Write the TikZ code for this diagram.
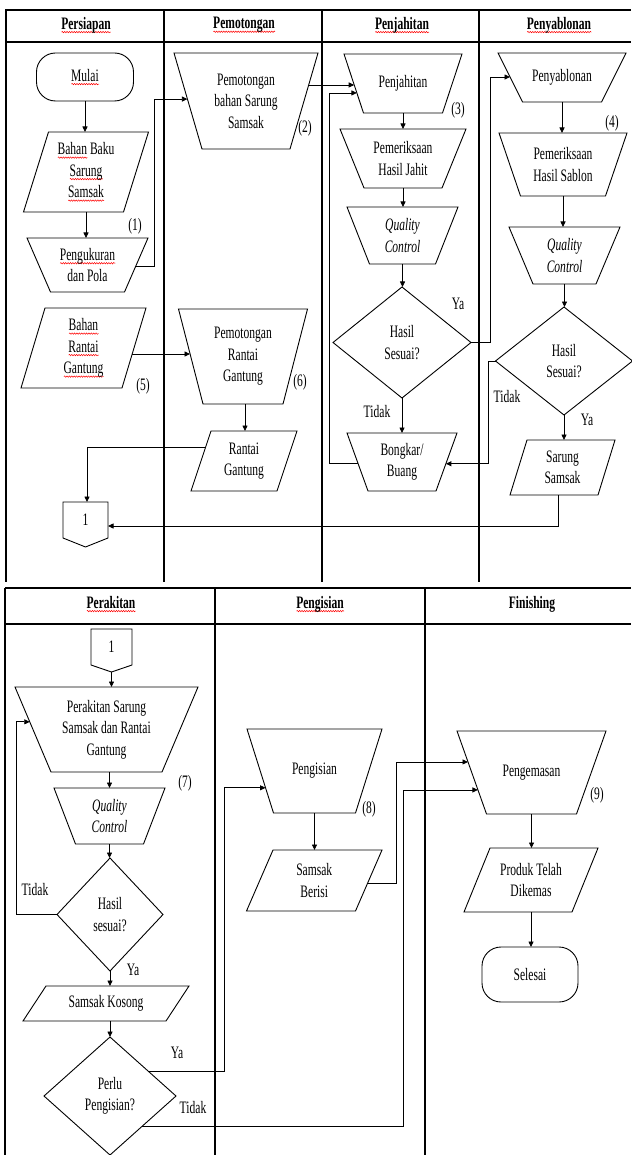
\documentclass[tikz,border=0pt]{standalone}
\usepackage{fontspec}
\setmainfont{Liberation Serif}[FakeStretch=0.66]
\usetikzlibrary{arrows.meta,calc,decorations.pathmorphing}
\newsavebox\sqbox
\newlength\sqw
\newcommand\sq[1]{\sbox\sqbox{#1}\setlength\sqw{\wd\sqbox}\leavevmode\rlap{\tikz[baseline=0pt,sharp corners]\draw[red,sharp corners,solid,line width=0.5pt,decorate,decoration={snake,amplitude=0.7pt,segment length=2.4pt}] (0pt,-3pt) -- (\sqw,-3pt);}\usebox\sqbox}
\tikzset{
 txt/.style={align=center, inner sep=1pt, outer sep=0pt, font=\fontsize{17.5}{21.5}\selectfont},
 shp/.style={line width=0.9pt, line join=miter},
 arr/.style={line width=0.8pt, -{Triangle[length=5.5pt,width=5pt]}},
 tbl/.style={line width=1.3pt},
}
% trapezoid (manual operation): name, cx, cy, top width, bottom width, height, text
\newcommand\trapz[7]{%
 \node[txt, minimum width=#4pt, minimum height=#6pt] (#1) at (#2,#3) {#7};
 \coordinate (#1-tl) at (#1.north west);
 \coordinate (#1-tr) at (#1.north east);
 \coordinate (#1-br) at ($(#1.south east)+({-(#4-#5)/2},0)$);
 \coordinate (#1-bl) at ($(#1.south west)+({(#4-#5)/2},0)$);
 \draw[shp] (#1-tl) -- (#1-tr) -- (#1-br) -- (#1-bl) -- cycle;}
% parallelogram: name, cx, cy, width, height, slant, text
\newcommand\mkpara[7]{%
 \node[txt, minimum width=#4pt, minimum height=#5pt] (#1) at (#2,#3) {#7};
 \coordinate (#1-tl) at ($(#1.north west)+({#6/2},0)$);
 \coordinate (#1-tr) at ($(#1.north east)+({#6/2},0)$);
 \coordinate (#1-br) at ($(#1.south east)+({-#6/2},0)$);
 \coordinate (#1-bl) at ($(#1.south west)+({-#6/2},0)$);
 \draw[shp] (#1-tl) -- (#1-tr) -- (#1-br) -- (#1-bl) -- cycle;}
% diamond: name, cx, cy, width, height, text
\newcommand\dmd[6]{%
 \node[txt, minimum width=#4pt, minimum height=#5pt] (#1) at (#2,#3) {#6};
 \draw[shp] (#1.north) -- (#1.east) -- (#1.south) -- (#1.west) -- cycle;}
% terminator: name, cx, cy, width, height, text
\newcommand\mkterm[6]{%
 \node[txt, minimum width=#4pt, minimum height=#5pt] (#1) at (#2,#3) {#6};
 \draw[shp, rounded corners=19pt] (#1.north west) rectangle (#1.south east);}
% off-page connector: name, cx, cy, width, height, point depth, text
\newcommand\offp[7]{%
 \node[txt, minimum width=#4pt, minimum height=#5pt] (#1) at (#2,#3) {#7};
 \coordinate (#1-p) at ($(#1.south)+(0,#6)$);
 \draw[shp] (#1.north west) -- (#1.north east) -- (#1.south east) -- (#1-p) -- (#1.south west) -- cycle;}
\begin{document}
\begin{tikzpicture}[x=1pt,y=-1pt]
\fill[white] (0,0) rectangle (631,1155);
\useasboundingbox (0,0) rectangle (631,1155);
% ---------- top table ----------
\draw[tbl] (5,10) -- (631,10);
\draw[tbl] (5,42) -- (631,42);
\draw[tbl] (6,10) -- (6,582);
\draw[tbl] (164,10) -- (164,582);
\draw[tbl] (322,10) -- (322,582);
\draw[tbl] (479,10) -- (479,582);
\node[txt] (h1) at (86,25) {\textbf{\sq{Persiapan}}};
\node[txt] (h2) at (244,25) {\textbf{\sq{Pemotongan}}};
\node[txt] (h3) at (402,25) {\textbf{\sq{Penjahitan}}};
\node[txt] (h4) at (559,25) {\textbf{\sq{Penyablonan}}};
% ---------- bottom table ----------
\draw[tbl] (5,588) -- (631,588);
\draw[tbl] (5,624) -- (631,624);
\draw[tbl] (5,588) -- (5,1155);
\draw[tbl] (215,588) -- (215,1155);
\draw[tbl] (425,588) -- (425,1155);
\node[txt] (h5) at (111,604) {\textbf{\sq{Perakitan}}};
\node[txt] (h6) at (320,604) {\textbf{\sq{Pengisian}}};
\node[txt] (h7) at (532,604) {\textbf{Finishing}};
% ---------- Persiapan / Pemotongan ----------
\mkterm{mulai}{85}{77}{97}{48}{\sq{Mulai}}
\mkpara{bb}{86}{172}{100}{80}{25}{\sq{Bahan} Baku\\\sq{Sarung}\\\sq{Samsak}}
\trapz{pu}{87.5}{265}{121}{74}{54}{\sq{Pengukuran}\\dan Pola}
\trapz{pb}{246}{101}{144}{88}{96}{Pemotongan\\bahan Sarung\\Samsak}
\mkpara{br}{83.5}{348}{101}{80}{24}{\sq{Bahan}\\\sq{Rantai}\\\sq{Gantung}}
\trapz{pr}{243}{356.5}{129}{80}{95}{Pemotongan\\Rantai\\Gantung}
\mkpara{rg}{244}{461}{86}{60}{20}{Rantai\\Gantung}
\offp{c1}{85.5}{520}{45}{36}{9}{1}
% ---------- Penjahitan ----------
\trapz{pj}{403}{83.5}{118}{79}{59}{Penjahitan}
\trapz{phj}{403}{158.5}{126}{78}{59}{Pemeriksaan\\Hasil Jahit}
\trapz{qa}{402.5}{235.5}{111}{66}{57}{\textit{Quality}\\\textit{Control}}
\dmd{d1}{402}{342.5}{138}{111}{Hasil\\Sesuai?}
\trapz{bg}{402}{462}{110}{68}{58}{Bongkar/\\Buang}
% ---------- Penyablonan ----------
\trapz{ps}{562}{77.5}{128}{79}{49}{Penyablonan}
\trapz{phs}{563}{164.5}{128}{85}{63}{Pemeriksaan\\Hasil Sablon}
\trapz{qb}{564.5}{255.5}{111}{63}{57}{\textit{Quality}\\\textit{Control}}
\dmd{d2}{564}{361}{137}{108}{Hasil\\Sesuai?}
\mkpara{ss}{562.5}{467.5}{88}{55}{17}{Sarung\\Samsak}
% ---------- Perakitan ----------
\offp{c2}{111.5}{647}{41}{36}{7}{1}
\trapz{pk}{106.5}{729.5}{183}{111}{85}{Perakitan Sarung\\Samsak dan Rantai\\Gantung}
\trapz{qc}{109.5}{816}{111}{68}{56}{\textit{Quality}\\\textit{Control}}
\dmd{d3}{110}{914.5}{106}{113}{Hasil\\sesuai?}
\mkpara{sk}{106}{1003.5}{143}{35}{23}{Samsak Kosong}
\dmd{d4}{110}{1096}{132}{118}{Perlu\\Pengisian?}
% ---------- Pengisian / Finishing ----------
\trapz{pg}{314.5}{771}{135}{82}{84}{Pengisian}
\mkpara{sb}{314.25}{880.5}{109}{61}{26.5}{Samsak\\Berisi}
\trapz{pm}{531.5}{772.5}{149}{90}{83}{Pengemasan}
\mkpara{pt}{531}{880}{108}{64}{26}{Produk Telah\\Dikemas}
\mkterm{sl}{530}{974.5}{96}{55}{Selesai}
% ---------- step numbers ----------
\node[txt] (n1) at (135,226) {(1)};
\node[txt] (n2) at (305,128) {(2)};
\node[txt] (n3) at (458,110) {(3)};
\node[txt] (n4) at (612,123) {(4)};
\node[txt] (n5) at (143,386) {(5)};
\node[txt] (n6) at (300,382) {(6)};
\node[txt] (n7) at (185,783) {(7)};
\node[txt] (n8) at (369,809) {(8)};
\node[txt] (n9) at (597,795) {(9)};
% ---------- branch labels ----------
\node[txt] (ya1) at (458,304) {Ya};
\node[txt] (ti1) at (377,412) {Tidak};
\node[txt] (ti2) at (507,397) {Tidak};
\node[txt] (ya2) at (587,420) {Ya};
\node[txt] (ti3) at (35,890) {Tidak};
\node[txt] (ya3) at (133,970) {Ya};
\node[txt] (ya4) at (177,1053) {Ya};
\node[txt] (ti4) at (193,1108) {Tidak};
% ---------- edge points ----------
\coordinate (puR) at ($(pu-tr)!0.52!(pu-br)$);
\coordinate (pbL) at ($(pb-tl)!0.48!(pb-bl)$);
\coordinate (pbR) at ($(pb-tr)!0.333!(pb-br)$);
\coordinate (pjL) at ($(pj-tl)!0.525!(pj-bl)$);
\coordinate (pjL2) at ($(pj-tl)!0.66!(pj-bl)$);
\coordinate (psL) at ($(ps-tl)!0.49!(ps-bl)$);
\coordinate (bgL) at ($(bg-tl)!0.53!(bg-bl)$);
\coordinate (bgR) at ($(bg-tr)!0.53!(bg-br)$);
\coordinate (rgL) at ($(rg-tl)!0.27!(rg-bl)$);
\coordinate (brR) at ($(br-tr)!0.575!(br-br)$);
\coordinate (prL) at ($(pr-tl)!0.47!(pr-bl)$);
\coordinate (c1in) at ($(c1.east)+(0,6)$);
\coordinate (pkL) at ($(pk-tl)!0.41!(pk-bl)$);
\coordinate (d4a) at ($(d4.north)!0.576!(d4.east)$);
\coordinate (d4b) at ($(d4.east)!0.51!(d4.south)$);
\coordinate (pgL) at ($(pg-tl)!0.70!(pg-bl)$);
\coordinate (pmL) at ($(pm-tl)!0.71!(pm-bl)$);
\coordinate (pmL2) at ($(pm-tl)!0.373!(pm-bl)$);
\coordinate (sbR) at ($(sb-tr)!0.54!(sb-br)$);
% ---------- connectors ----------
\draw[arr] (mulai.south) -- (mulai.south |- bb-tl);
\draw[arr] (bb.south) -- (bb.south |- pu-tl);
\draw[arr] (puR) -- ++(18.5,0) |- (pbL);
\draw[arr] (pbR) -- (pbR -| pjL);
\draw[arr] (pj.south) -- (pj.south |- phj-tl);
\draw[arr] (phj.south) -- (phj.south |- qa-tl);
\draw[arr] (qa.south) -- (qa.south |- d1.north);
\draw[arr] (d1.east) -- ++(19,0) |- (psL);
\draw[arr] (d1.south) -- (d1.south |- bg-tl);
\draw[arr] (bgL) -- ++(-29,0) |- (pjL2);
\draw[arr] (ps.south) -- (ps.south |- phs-tl);
\draw[arr] (phs.south) -- (phs.south |- qb-tl);
\draw[arr] (qb.south) -- (qb.south |- d2.north);
\draw[arr] (d2.west) -- ++(-7,0) |- (bgR);
\draw[arr] (d2.south) -- (d2.south |- ss-tl);
\draw[arr] ([xshift=-4pt]ss.south) |- (c1in);
\draw[arr] (rgL) -| ([xshift=1.5pt]c1.north);
\draw[arr] (brR) -- (brR -| prL);
\draw[arr] ([xshift=2pt]pr.south) -- ([xshift=2pt]pr.south |- rg-tl);
\draw[arr] (c2-p) -- (c2-p |- pk-tl);
\draw[arr] (qc.north |- pk.south) -- (qc.north);
\draw[arr] (qc.south) -- (qc.south |- d3.north);
\draw[arr] (d3.west) -- ++(-41,0) |- (pkL);
\draw[arr] (d3.south) -- (d3.south |- sk-tl);
\draw[arr] (d4.north |- sk.south) -- (d4.north);
\draw[arr] (d4a) -- ++(76.6,0) |- (pgL);
\draw[arr] (d4b) -- ++(261,0) |- (pmL);
\draw[arr] (pg.south) -- (pg.south |- sb-tl);
\draw[arr] (sbR) -- ++(28.6,0) |- (pmL2);
\draw[arr] (pm.south) -- (pm.south |- pt-tl);
\draw[arr] (pt.south) -- (pt.south |- sl.north);
\end{tikzpicture}
\end{document}
